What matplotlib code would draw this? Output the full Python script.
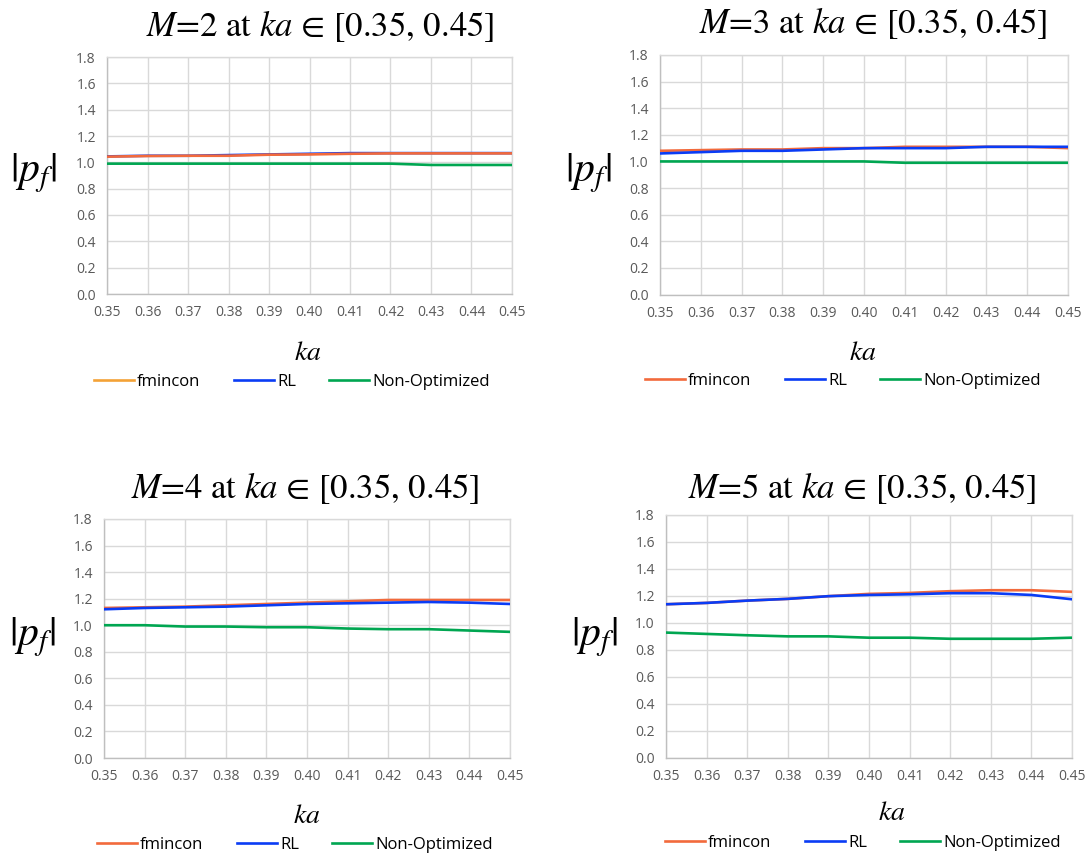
import matplotlib
matplotlib.use("Agg")
import matplotlib.pyplot as plt
from matplotlib.lines import Line2D

plt.rcParams['mathtext.fontset'] = 'stix'

# ---- data ----
ka = [0.35, 0.36, 0.37, 0.38, 0.39, 0.40, 0.41, 0.42, 0.43, 0.44, 0.45]
ka_labels = ["0.35", "0.36", "0.37", "0.38", "0.39", "0.40", "0.41", "0.42", "0.43", "0.44", "0.45"]
series_names = ["fmincon", "RL", "Non-Optimized"]

fmincon_m2 = [1.043, 1.048, 1.05, 1.05, 1.058, 1.06, 1.065, 1.068, 1.068, 1.068, 1.068]
rl_m2 = [1.045, 1.05, 1.05, 1.055, 1.06, 1.065, 1.07, 1.07, 1.07, 1.07, 1.07]
nonopt_m2 = [0.99, 0.99, 0.99, 0.99, 0.99, 0.99, 0.99, 0.99, 0.98, 0.98, 0.98]

fmincon_m3 = [1.08, 1.085, 1.09, 1.09, 1.10, 1.10, 1.11, 1.11, 1.11, 1.11, 1.10]
rl_m3 = [1.06, 1.07, 1.08, 1.08, 1.09, 1.10, 1.10, 1.10, 1.11, 1.11, 1.11]
nonopt_m3 = [1.00, 1.00, 1.00, 1.00, 1.00, 1.00, 0.99, 0.99, 0.99, 0.99, 0.99]

fmincon_m4 = [1.13, 1.135, 1.14, 1.15, 1.16, 1.17, 1.18, 1.19, 1.19, 1.19, 1.19]
rl_m4 = [1.12, 1.13, 1.135, 1.14, 1.15, 1.16, 1.165, 1.17, 1.175, 1.17, 1.16]
nonopt_m4 = [1.00, 1.00, 0.99, 0.99, 0.985, 0.985, 0.975, 0.97, 0.97, 0.96, 0.95]

fmincon_m5 = [1.138, 1.148, 1.165, 1.178, 1.198, 1.215, 1.222, 1.235, 1.242, 1.242, 1.23]
rl_m5 = [1.138, 1.148, 1.165, 1.178, 1.198, 1.207, 1.212, 1.22, 1.22, 1.207, 1.175]
nonopt_m5 = [0.928, 0.918, 0.908, 0.90, 0.90, 0.89, 0.89, 0.882, 0.882, 0.882, 0.89]

y_ticks = [0.0, 0.2, 0.4, 0.6, 0.8, 1.0, 1.2, 1.4, 1.6, 1.8]

C_FMIN = "#F26A3C"
C_FMIN_ALT = "#F4A236"
C_RL = "#0A3CF5"
C_NON = "#00A651"
GRID = "#D9D9D9"
TICK = "#595959"

W, H = 1090, 856
fig = plt.figure(figsize=(W / 100, H / 100), dpi=100)


def fx(px):
    return px / W


def fy(py):
    return 1 - py / H


panels = [
    dict(M=2, box=(107, 57, 512, 294), data=(fmincon_m2, rl_m2, nonopt_m2), rl_under=True,
         title=(320, 26), ylab=(33, 173), xlab=(308, 352), leg=(292, 382), fmin_leg=C_FMIN_ALT),
    dict(M=3, box=(660, 55, 1068, 294.5), data=(fmincon_m3, rl_m3, nonopt_m3), rl_under=False,
         title=(873, 23), ylab=(588, 173), xlab=(863, 352), leg=(843, 381), fmin_leg=C_FMIN),
    dict(M=4, box=(104, 519, 510, 758), data=(fmincon_m4, rl_m4, nonopt_m4), rl_under=False,
         title=(305, 488), ylab=(32, 637), xlab=(307, 815), leg=(295, 845), fmin_leg=C_FMIN),
    dict(M=5, box=(666, 515, 1072, 757.7), data=(fmincon_m5, rl_m5, nonopt_m5), rl_under=False,
         title=(862, 488), ylab=(594, 637), xlab=(892, 812), leg=(863, 843), fmin_leg=C_FMIN),
]

for p in panels:
    l, t, r, b = p["box"]
    ax = fig.add_axes([fx(l), fy(b), fx(r - l), (b - t) / H])
    fm, rl, no = p["data"]
    if p["rl_under"]:
        ax.plot(ka, rl, color=C_RL, lw=1.9, zorder=3)
        ax.plot(ka, fm, color=C_FMIN, lw=1.9, zorder=4)
    else:
        ax.plot(ka, fm, color=C_FMIN, lw=1.9, zorder=3)
        ax.plot(ka, rl, color=C_RL, lw=1.9, zorder=4)
    ax.plot(ka, no, color=C_NON, lw=1.9, zorder=5)

    ax.set_xlim(0.35, 0.45)
    ax.set_ylim(0, 1.8)
    ax.set_xticks(ka)
    ax.set_xticklabels(ka_labels)
    ax.set_yticks(y_ticks)
    ax.set_yticklabels([f"{v:.1f}" for v in y_ticks])
    ax.tick_params(length=0, labelsize=10, labelcolor=TICK, pad=8)
    for lab in ax.get_xticklabels() + ax.get_yticklabels():
        lab.set_family("Open Sans")
    ax.grid(True, color=GRID, lw=1.0, zorder=0)
    for side in ("top", "right"):
        ax.spines[side].set_color(GRID)
        ax.spines[side].set_linewidth(1.0)
    for side in ("left", "bottom"):
        ax.spines[side].set_color("#BFBFBF")
        ax.spines[side].set_linewidth(1.0)

    fig.text(fx(p["title"][0]), fy(p["title"][1]),
             r"$M$=%d at $ka$ ∈ [0.35, 0.45]" % p["M"],
             ha="center", va="center", fontsize=25, family="STIXGeneral")
    fig.text(fx(p["ylab"][0]), fy(p["ylab"][1]), r"$|p_f|$",
             ha="center", va="center", fontsize=30)
    fig.text(fx(p["xlab"][0]), fy(p["xlab"][1]), r"$ka$",
             ha="center", va="center", fontsize=20)

    handles = [Line2D([], [], color=p["fmin_leg"], lw=1.9),
               Line2D([], [], color=C_RL, lw=1.9),
               Line2D([], [], color=C_NON, lw=1.9)]
    fig.legend(handles, series_names, loc="center",
               bbox_to_anchor=(fx(p["leg"][0]), fy(p["leg"][1])),
               ncol=3, frameon=False, handlelength=2.4, handletextpad=0.2,
               columnspacing=2.0, prop=dict(family="Open Sans", size=12))

fig.savefig("out.png", dpi=100)
